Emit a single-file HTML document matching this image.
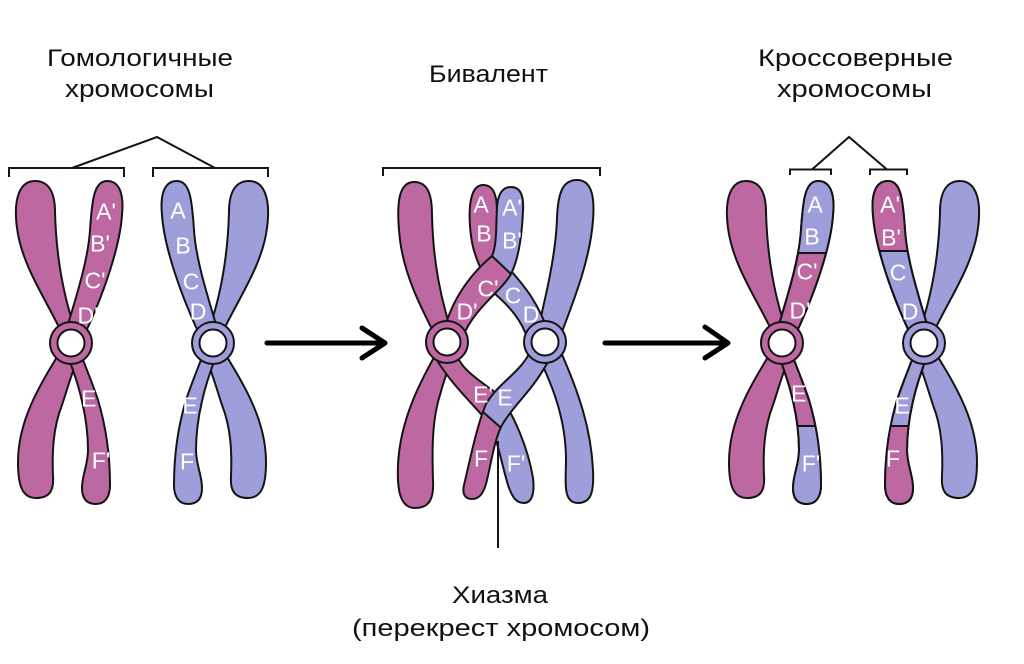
<!DOCTYPE html>
<html>
<head>
<meta charset="utf-8">
<style>
html,body{margin:0;padding:0;background:#fff;}
body{width:1024px;height:664px;overflow:hidden;}
svg{display:block;}
.m{fill:#BD68A1;stroke:#141414;stroke-width:2;stroke-linejoin:round;}
.b{fill:#9E9EDA;stroke:#141414;stroke-width:2;stroke-linejoin:round;}
.o{fill:none;stroke:#141414;stroke-width:2;stroke-linejoin:round;}
.ln{stroke:#141414;stroke-width:2;fill:none;}
.w{fill:#fff;stroke:#141414;stroke-width:2;}
.t{font-family:"Liberation Sans","DejaVu Sans",sans-serif;font-size:24px;fill:#111;}
.l{font-family:"Liberation Sans","DejaVu Sans",sans-serif;font-size:23px;fill:#fff;text-anchor:middle;}
</style>
</head>
<body>
<svg xmlns="http://www.w3.org/2000/svg" width="1024" height="664" viewBox="0 0 1024 664">
<defs>
  <path id="ul" d="M64,338 C50,305 22,268 17,228 C13,198 20,181 35,181 C49,181 55,193 55,212 C56,250 62,295 78,338 Z"/>
  <path id="ur" d="M64,338 C75,300 88,262 90,230 C92,200 94,181 107,181 C120,181 124,195 122,215 C120,245 105,292 82,340 Z"/>
  <path id="ll" d="M60,352 C40,385 18,420 18,462 C18,485 22,498 36,498 C50,498 54,490 53,476 C52,452 53,428 62,405 C67,390 72,372 80,352 Z"/>
  <path id="lr" d="M66,352 C80,385 88,420 88,450 C88,465 82,475 82,488 C82,499 87,504 96,504 C105,504 110,497 110,485 C110,460 107,430 98,400 C92,382 86,368 80,352 Z"/>
  <clipPath id="cur"><use href="#ur"/></clipPath>
  <clipPath id="clr"><use href="#lr"/></clipPath>

  <path id="bt" d="M528,340 C522,320 508,305 494,293 C486,279 474,260 471,236 C468,212 469,185 483,185 C494,185 497,196 497,212 C497,240 500,258 512,272 C525,287 538,302 550,336 Z"/>
  <path id="bb" d="M454,346 C458,370 480,380 500,396 C514,415 528,448 533,478 C535,495 531,503 524,503 C516,503 512,497 508,485 C502,465 499,447 492,428 C482,412 458,393 438,362 Z"/>
  <path id="ft" d="M443,336 C449,305 467,277 492,256 C497,245 496,225 497,207 C498,193 503,187 511,187 C520,187 524,195 523,210 C522,235 519,258 511,274 C500,293 476,306 463,336 Z"/>
  <path id="fb" d="M530,352 C520,373 498,383 486,404 C477,425 470,460 464,485 C462,494 465,499 472,499 C479,499 483,494 486,484 C491,465 494,440 502,425 C514,404 534,390 551,356 Z"/>
  <clipPath id="cbt"><use href="#bt"/></clipPath>
  <clipPath id="cbb"><use href="#bb"/></clipPath>
  <clipPath id="cft"><use href="#ft"/></clipPath>
  <clipPath id="cfb"><use href="#fb"/></clipPath>

  <g id="chromM">
    <use href="#ul" class="m"/>
    <use href="#ur" class="m"/>
    <use href="#ll" class="m"/>
    <use href="#lr" class="m"/>
    <circle cx="71" cy="343" r="21" class="m"/>
    <circle cx="71" cy="343" r="13.5" class="w"/>
  </g>
  <g id="chromB">
    <use href="#ul" class="b"/>
    <use href="#ur" class="b"/>
    <use href="#ll" class="b"/>
    <use href="#lr" class="b"/>
    <circle cx="71" cy="343" r="21" class="b"/>
    <circle cx="71" cy="343" r="13.5" class="w"/>
  </g>
</defs>

<!-- Titles -->
<text class="t" x="47" y="66" textLength="186" lengthAdjust="spacingAndGlyphs">Гомологичные</text>
<text class="t" x="65" y="97" textLength="149" lengthAdjust="spacingAndGlyphs">хромосомы</text>
<text class="t" x="429" y="82" textLength="119" lengthAdjust="spacingAndGlyphs">Бивалент</text>
<text class="t" x="758" y="66" textLength="195" lengthAdjust="spacingAndGlyphs">Кроссоверные</text>
<text class="t" x="777" y="97" textLength="155" lengthAdjust="spacingAndGlyphs">хромосомы</text>
<text class="t" x="452" y="603" textLength="96" lengthAdjust="spacingAndGlyphs">Хиазма</text>
<text class="t" x="352" y="636" textLength="298" lengthAdjust="spacingAndGlyphs">(перекрест хромосом)</text>

<!-- Brackets -->
<path class="ln" d="M9,177 V168 H124 V177 M153,177 V168 H268 V177 M72,168 L157,137 L215,168"/>
<path class="ln" d="M383,176 V168 H600 V176"/>
<path class="ln" d="M790,175 V169.5 H831 V175 M870,175 V169.5 H907 V175 M812,169.5 L849,137 L887,169.5"/>

<!-- Arrows -->
<g stroke="#000" stroke-width="5" stroke-linecap="round" stroke-linejoin="round" fill="none">
  <path d="M267,343 H383 M362,328 L385,343 L362,358"/>
  <path d="M605,343 H726 M705,327 L728,343 L705,358"/>
</g>

<!-- Panel 1 -->
<use href="#chromM"/>
<g transform="translate(284,0) scale(-1,1)"><use href="#chromB"/></g>

<!-- Panel 3: magenta with bands -->
<g transform="translate(711,0)">
  <use href="#ul" class="m"/>
  <use href="#ll" class="m"/>
  <use href="#ur" class="m"/>
  <g clip-path="url(#cur)">
    <rect x="50" y="150" width="90" height="103" fill="#9E9EDA"/>
    <line x1="50" y1="253" x2="140" y2="253" class="ln"/>
  </g>
  <use href="#ur" class="o"/>
  <use href="#lr" class="m"/>
  <g clip-path="url(#clr)">
    <rect x="50" y="426" width="90" height="100" fill="#9E9EDA"/>
    <line x1="50" y1="426" x2="140" y2="426" class="ln"/>
  </g>
  <use href="#lr" class="o"/>
  <circle cx="71" cy="343" r="21" class="m"/>
  <circle cx="71" cy="343" r="13.5" class="w"/>
</g>
<!-- Panel 3: blue with bands (mirrored) -->
<g transform="translate(995,0) scale(-1,1)">
  <use href="#ul" class="b"/>
  <use href="#ll" class="b"/>
  <use href="#ur" class="b"/>
  <g clip-path="url(#cur)">
    <rect x="50" y="150" width="90" height="101" fill="#BD68A1"/>
    <line x1="50" y1="251" x2="140" y2="251" class="ln"/>
  </g>
  <use href="#ur" class="o"/>
  <use href="#lr" class="b"/>
  <g clip-path="url(#clr)">
    <rect x="50" y="426" width="90" height="100" fill="#BD68A1"/>
    <line x1="50" y1="426" x2="140" y2="426" class="ln"/>
  </g>
  <use href="#lr" class="o"/>
  <circle cx="71" cy="343" r="21" class="b"/>
  <circle cx="71" cy="343" r="13.5" class="w"/>
</g>

<!-- Panel 2: bivalent -->
<path class="m" d="M440,345 C425,315 405,280 400,240 C396,205 398,182 414,182 C428,182 432,195 432,215 C433,260 440,300 456,345 Z"/>
<path class="m" d="M437,352 C420,382 400,420 398,465 C397,490 400,508 415,508 C430,508 434,498 433,480 C432,450 432,420 440,395 C444,380 449,365 456,352 Z"/>
<path class="b" d="M535,342 C545,300 556,255 557,218 C558,192 563,180 577,180 C591,180 595,195 593,220 C590,262 572,305 557,345 Z"/>
<path class="b" d="M535,350 C553,385 566,420 566,460 C566,480 562,503 578,503 C592,503 594,490 593,470 C591,430 580,395 560,350 Z"/>

<!-- back top strand -->
<use href="#bt" fill="#9E9EDA"/>
<polygon clip-path="url(#cbt)" points="440,150 560,150 560,234 440,318" fill="#BD68A1"/>
<use href="#bt" class="o"/>

<!-- back bottom strand -->
<use href="#bb" fill="#9E9EDA"/>
<polygon clip-path="url(#cbb)" points="430,330 525,330 525,360 475,460 430,460" fill="#BD68A1"/>
<use href="#bb" class="o"/>

<!-- front top strand -->
<use href="#ft" fill="#BD68A1"/>
<g clip-path="url(#cft)">
  <polygon points="430,150 570,150 570,329.7 430,197.5" fill="#9E9EDA"/>
  <line x1="487" y1="251.3" x2="517" y2="279.7" class="ln"/>
</g>
<use href="#ft" class="o"/>

<!-- front bottom strand -->
<use href="#fb" fill="#BD68A1"/>
<g clip-path="url(#cfb)">
  <polygon points="430,330 570,330 570,488.8 430,365.2" fill="#9E9EDA"/>
  <line x1="476" y1="405.8" x2="508" y2="434" class="ln"/>
</g>
<use href="#fb" class="o"/>

<!-- centromeres -->
<circle cx="447" cy="342" r="21" class="m"/>
<circle cx="447" cy="342" r="13.5" class="w"/>
<circle cx="545" cy="342" r="21" class="b"/>
<circle cx="545" cy="342" r="13.5" class="w"/>

<!-- chiasma pointer -->
<line x1="498" y1="441" x2="498" y2="548" class="ln"/>

<!-- Labels panel 1 -->
<text class="l" x="106" y="219.5">A'</text>
<text class="l" x="100" y="251.5">B'</text>
<text class="l" x="95" y="288.5">C'</text>
<text class="l" x="88" y="323.5">D'</text>
<text class="l" x="91" y="406.5">E'</text>
<text class="l" x="101" y="468.5">F'</text>
<text class="l" x="178" y="218.5">A</text>
<text class="l" x="183" y="253.5">B</text>
<text class="l" x="191" y="289.5">C</text>
<text class="l" x="198" y="319.5">D</text>
<text class="l" x="190" y="413.5">E</text>
<text class="l" x="187" y="469.5">F</text>

<!-- Labels panel 2 -->
<text class="l" x="481" y="212.5">A</text>
<text class="l" x="484" y="241.5">B</text>
<text class="l" x="512" y="215.5">A'</text>
<text class="l" x="512" y="248.5">B'</text>
<text class="l" x="488" y="296.5">C'</text>
<text class="l" x="467" y="319.5">D'</text>
<text class="l" x="513" y="303.5">C</text>
<text class="l" x="531" y="322.5">D</text>
<text class="l" x="483" y="402.5">E'</text>
<text class="l" x="505" y="405.5">E</text>
<text class="l" x="481" y="466.5">F</text>
<text class="l" x="516" y="471.5">F'</text>

<!-- Labels panel 3 -->
<text class="l" x="815" y="212.5">A</text>
<text class="l" x="812" y="244.5">B</text>
<text class="l" x="807" y="279.5">C'</text>
<text class="l" x="800" y="318.5">D'</text>
<text class="l" x="801" y="401.5">E'</text>
<text class="l" x="811" y="471.5">F'</text>
<text class="l" x="890" y="212.5">A'</text>
<text class="l" x="891" y="245.5">B'</text>
<text class="l" x="898" y="280.5">C</text>
<text class="l" x="910" y="319.5">D</text>
<text class="l" x="902" y="413.5">E</text>
<text class="l" x="893" y="466.5">F</text>
</svg>
</body>
</html>
